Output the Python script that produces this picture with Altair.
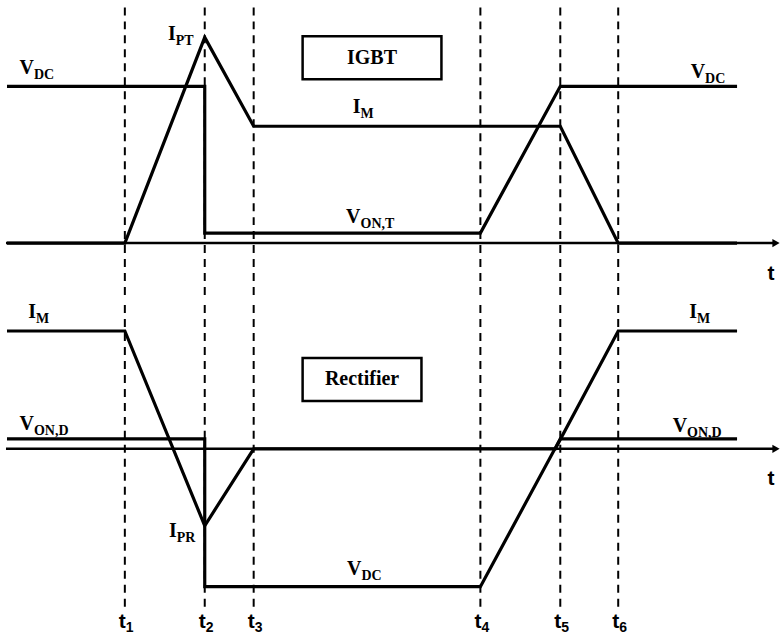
import altair as alt
import pandas as pd

# ---- switching instants (arbitrary time units) ----
T_START = 0.0
T1, T2, T3, T4, T5, T6 = 11.8, 19.8, 24.7, 47.4, 55.4, 61.2
T_END = 73.1
T_ZERO_CROSS = 54.9          # rectifier current leaves zero
AXIS_FROM, AXIS_TO = -0.1, 77.0

time_marks = [T1, T2, T3, T4, T5, T6]
time_names = ["1", "2", "3", "4", "5", "6"]

# ---- IGBT (upper panel) ----
igbt_v_t = [T_START, T2, T2, T4, T5, T_END]
igbt_v = [15.7, 15.7, 1.0, 1.0, 15.7, 15.7]
igbt_i_t = [T_START, T1, T2, T3, T5, T6, T_END]
igbt_i = [0.0, 0.0, 20.6, 11.7, 11.7, 0.0, 0.0]

# ---- rectifier diode (lower panel) ----
rect_v_t = [T_START, T2, T2, T4, T5, T_END]
rect_v = [1.0, 1.0, -13.8, -13.8, 1.0, 1.0]
rect_i_t = [T_START, T1, T2, T3, T_ZERO_CROSS, T6, T_END]
rect_i = [11.8, 11.8, -7.7, 0.0, 0.0, 11.8, 11.8]

# ---- annotations: anchor (time, level), main letter, subscript ----
top_lbl_t = [2.7, 16.9, 35.4, 35.4, 69.9]
top_lbl_v = [16.9, 20.3, 13.0, 2.0, 16.5]
top_lbl_main = ["V", "I", "I", "V", "V"]
top_lbl_sub = ["DC", "PT", "M", "ON,T", "DC"]

bot_lbl_t = [2.9, 2.7, 17.0, 35.5, 69.1, 68.1]
bot_lbl_v = [13.1, 1.9, -8.8, -12.6, 13.1, 1.7]
bot_lbl_main = ["I", "V", "I", "V", "I", "V"]
bot_lbl_sub = ["M", "ON,D", "PR", "DC", "M", "ON,D"]

W = 781
TOP_H, BOT_H = 300, 334
X = alt.Scale(domain=[-0.6, 77.5], nice=False, zero=False)
Y_TOP = alt.Scale(domain=[-5.7, 24.3], nice=False, zero=False)
Y_BOT = alt.Scale(domain=[-19.0, 14.4], nice=False, zero=False)

SERIF = "Liberation Serif"
SANS = "Liberation Sans Narrow, Liberation Sans"


def wave(times, values, ys):
    df = pd.DataFrame({"t": times, "v": values, "k": range(len(times))})
    return alt.Chart(df).mark_line(
        color="black", strokeWidth=3.2, strokeJoin="miter"
    ).encode(
        x=alt.X("t:Q", scale=X, axis=None),
        y=alt.Y("v:Q", scale=ys, axis=None),
        order="k:Q",
    )


def time_axis(ys):
    df = pd.DataFrame({"a": [AXIS_FROM], "b": [AXIS_TO], "v": [0.0]})
    line = alt.Chart(df).mark_rule(color="black", strokeWidth=2.5).encode(
        x=alt.X("a:Q", scale=X, axis=None), x2="b:Q",
        y=alt.Y("v:Q", scale=ys, axis=None),
    )
    head = alt.Chart(df).mark_point(
        shape="triangle-right", filled=True, size=70, color="black", opacity=1
    ).encode(
        x=alt.X("b:Q", scale=X, axis=None),
        y=alt.Y("v:Q", scale=ys, axis=None),
    )
    return line + head


def markers(ys, top, bottom):
    df = pd.DataFrame({"t": time_marks, "a": [top] * 6, "b": [bottom] * 6})
    return alt.Chart(df).mark_rule(
        color="black", strokeWidth=2, strokeDash=[8, 6]
    ).encode(
        x=alt.X("t:Q", scale=X, axis=None),
        y=alt.Y("a:Q", scale=ys, axis=None),
        y2="b:Q",
    )


def labels(ts, vs, mains, subs, ys):
    df = pd.DataFrame({"t": ts, "v": vs, "m": mains, "s": subs})
    base = alt.Chart(df).encode(
        x=alt.X("t:Q", scale=X, axis=None),
        y=alt.Y("v:Q", scale=ys, axis=None),
    )
    main = base.mark_text(
        font=SERIF, fontWeight="bold", fontSize=20, align="right",
        baseline="alphabetic", color="black",
    ).encode(text="m:N")
    sub = base.mark_text(
        font=SERIF, fontWeight="bold", fontSize=14, align="left",
        baseline="alphabetic", dy=5, color="black",
    ).encode(text="s:N")
    return main + sub


def boxed(text, t0, t1, v0, v1, ys):
    df = pd.DataFrame({"a": [t0], "b": [t1], "lo": [v0], "hi": [v1],
                       "c": [(t0 + t1) / 2], "m": [(v0 + v1) / 2], "txt": [text]})
    frame = alt.Chart(df).mark_rect(
        fill="white", stroke="black", strokeWidth=2.5
    ).encode(
        x=alt.X("a:Q", scale=X, axis=None), x2="b:Q",
        y=alt.Y("lo:Q", scale=ys, axis=None), y2="hi:Q",
    )
    word = alt.Chart(df).mark_text(
        font=SERIF, fontWeight="bold", fontSize=20, align="center",
        baseline="middle", color="black",
    ).encode(
        x=alt.X("c:Q", scale=X, axis=None),
        y=alt.Y("m:Q", scale=ys, axis=None),
        text="txt:N",
    )
    return frame + word


def axis_name(v, ys):
    df = pd.DataFrame({"t": [76.5], "v": [v], "txt": ["t"]})
    return alt.Chart(df).mark_text(
        font=SANS, fontWeight="bold", fontSize=21, align="center",
        baseline="alphabetic", color="black",
    ).encode(
        x=alt.X("t:Q", scale=X, axis=None),
        y=alt.Y("v:Q", scale=ys, axis=None),
        text="txt:N",
    )


def time_labels(v, ys):
    df = pd.DataFrame({"t": time_marks, "n": time_names,
                       "v": [v] * 6, "m": ["t"] * 6})
    base = alt.Chart(df).encode(
        x=alt.X("t:Q", scale=X, axis=None),
        y=alt.Y("v:Q", scale=ys, axis=None),
    )
    main = base.mark_text(
        font=SANS, fontWeight="bold", fontSize=21, align="right",
        baseline="alphabetic", dx=1, color="black",
    ).encode(text="m:N")
    sub = base.mark_text(
        font=SANS, fontWeight="bold", fontSize=14, align="left",
        baseline="alphabetic", dx=1, dy=4, color="black",
    ).encode(text="n:N")
    return main + sub


top = alt.layer(
    markers(Y_TOP, 23.6, -5.7),
    time_axis(Y_TOP),
    wave(igbt_v_t, igbt_v, Y_TOP),
    wave(igbt_i_t, igbt_i, Y_TOP),
    boxed("IGBT", 29.6, 43.5, 16.4, 20.7, Y_TOP),
    labels(top_lbl_t, top_lbl_v, top_lbl_main, top_lbl_sub, Y_TOP),
    axis_name(-3.7, Y_TOP),
).properties(width=W, height=TOP_H)

bottom = alt.layer(
    markers(Y_BOT, 14.4, -16.3),
    time_axis(Y_BOT),
    wave(rect_v_t, rect_v, Y_BOT),
    wave(rect_i_t, rect_i, Y_BOT),
    boxed("Rectifier", 29.6, 41.5, 4.8, 9.1, Y_BOT),
    labels(bot_lbl_t, bot_lbl_v, bot_lbl_main, bot_lbl_sub, Y_BOT),
    axis_name(-3.6, Y_BOT),
    time_labels(-17.9, Y_BOT),
).properties(width=W, height=BOT_H)

chart = alt.vconcat(top, bottom, spacing=0).properties(
    padding=0
).configure(
    background="white", view=alt.ViewConfig(stroke=None)
)

chart.save("out.html", embed_options={"renderer": "svg", "actions": False})
